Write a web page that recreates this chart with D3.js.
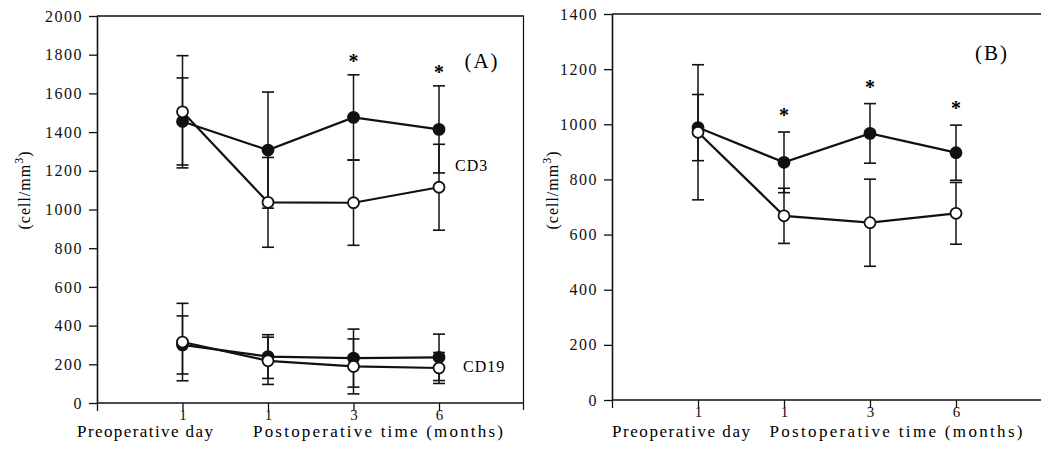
<!DOCTYPE html>
<html>
<head>
<meta charset="utf-8">
<script src="https://cdn.jsdelivr.net/npm/d3@7"></script>
<style>
  body { margin: 0; background: #fff; }
  svg { display: block; font-family: "Liberation Serif", "DejaVu Serif", serif; }
</style>
</head>
<body>
<svg id="chart" width="1041" height="470"></svg>
<script>
// x categories (tick labels under the 4 time points)
const timeLabels = ["1", "1", "3", "6"];

// y tick labels
const ticksA = [0, 200, 400, 600, 800, 1000, 1200, 1400, 1600, 1800, 2000];
const ticksB = [0, 200, 400, 600, 800, 1000, 1200, 1400];

// Panel A - CD3 (mean, sd)
const cd3Filled = [1455, 1307, 1476, 1414];
const cd3FilledSd = [225, 300, 220, 225];
const cd3Open = [1505, 1037, 1035, 1115];
const cd3OpenSd = [290, 232, 220, 222];

// Panel A - CD19 (mean, sd)
const cd19Filled = [300, 240, 232, 236];
const cd19FilledSd = [150, 113, 150, 120];
const cd19Open = [315, 218, 189, 181];
const cd19OpenSd = [200, 122, 142, 80];

// Panel B (mean, sd)
const bFilled = [988, 862, 967, 897];
const bFilledSd = [120, 110, 108, 100];
const bOpen = [971, 668, 643, 677];
const bOpenSd = [245, 100, 158, 112];

// significance stars (point index)
const starsA = [2, 3];
const starsB = [1, 2, 3];

const svg = d3.select("#chart");
const FONT = "'Liberation Serif', 'DejaVu Serif', serif";

function drawPanel(opt) {
    const x = d3.scaleLinear().domain([0, 5]).range([opt.left, opt.right]);
    const y = d3.scaleLinear().domain([0, opt.max]).range([opt.bottom, opt.top]);
    const g = svg.append("g");

    // top border
    g.append("line")
        .attr("x1", opt.left).attr("x2", opt.borderRight)
        .attr("y1", opt.top).attr("y2", opt.top)
        .attr("stroke", "#111").attr("stroke-width", 1.3);

    // y axis
    const ya = g.append("g")
        .attr("transform", `translate(${opt.left},0)`)
        .call(d3.axisLeft(y).tickValues(opt.ticks).tickFormat(d3.format("d"))
            .tickSize(8).tickSizeOuter(0).tickPadding(6));
    ya.attr("font-family", FONT);
    ya.select(".domain").attr("stroke-width", 1.6).attr("stroke", "#111");
    ya.selectAll(".tick line").attr("stroke-width", 1.3).attr("stroke", "#111");
    ya.selectAll("text").style("font-size", "16px").style("letter-spacing", "1.5px").attr("fill", "#111");

    // x axis
    const xa = g.append("g")
        .attr("transform", `translate(0,${opt.bottom})`)
        .call(d3.axisBottom(x).tickValues([0, 1, 2, 3, 4])
            .tickFormat(d => d === 0 ? "" : timeLabels[d - 1])
            .tickSize(8).tickSizeOuter(0).tickPadding(-2));
    xa.attr("font-family", FONT);
    xa.select(".domain").attr("stroke-width", 1.6).attr("stroke", "#111")
        .attr("d", `M${opt.left},0H${opt.borderRight}`);
    xa.selectAll(".tick line").attr("stroke-width", 1.3).attr("stroke", "#111");
    xa.selectAll("text").style("font-size", "15px").attr("fill", "#111");

    // x axis titles
    g.append("text")
        .attr("x", opt.preX).attr("y", 437)
        .attr("text-anchor", "middle")
        .attr("textLength", opt.preW).attr("lengthAdjust", "spacing")
        .style("font-size", "17px")
        .text("Preoperative day");
    g.append("text")
        .attr("x", opt.postX).attr("y", 437)
        .attr("text-anchor", "middle")
        .attr("textLength", opt.postW).attr("lengthAdjust", "spacing")
        .style("font-size", "17px")
        .text("Postoperative  time (months)");

    // y axis title
    const yt = g.append("text")
        .attr("transform", `translate(${opt.titleX},190) rotate(-90)`)
        .attr("text-anchor", "middle")
        .style("font-size", "16px")
        .style("letter-spacing", "1px");
    yt.append("tspan").text("(cell/mm");
    yt.append("tspan").attr("dy", -7).style("font-size", "12px").text("3");
    yt.append("tspan").attr("dy", 7).text(")");

    const line = d3.line().x((d, i) => x(i + 1)).y(d => y(d));

    opt.series.forEach(s => {
        g.append("path")
            .datum(s.mean)
            .attr("fill", "none")
            .attr("stroke", "#111")
            .attr("stroke-width", 2.2)
            .attr("d", line);
    });

    // error bars
    opt.series.forEach(s => {
        s.mean.forEach((m, i) => {
            const cx = x(i + 1);
            const hi = y(m + s.sd[i]), lo = y(m - s.sd[i]);
            g.append("line")
                .attr("x1", cx).attr("x2", cx).attr("y1", hi).attr("y2", lo)
                .attr("stroke", "#111").attr("stroke-width", 1.5);
            [hi, lo].forEach(yy => {
                g.append("line")
                    .attr("x1", cx - 6).attr("x2", cx + 6).attr("y1", yy).attr("y2", yy)
                    .attr("stroke", "#111").attr("stroke-width", 1.6);
            });
        });
    });

    // markers
    opt.series.forEach(s => {
        g.selectAll(null)
            .data(s.mean)
            .enter().append("circle")
            .attr("cx", (d, i) => x(i + 1))
            .attr("cy", d => y(d))
            .attr("r", 5.5)
            .attr("fill", s.filled ? "#111" : "#fff")
            .attr("stroke", "#111")
            .attr("stroke-width", 1.8);
    });

    // stars above the filled series
    const ref = opt.series[0];
    g.selectAll(null)
        .data(opt.stars)
        .enter().append("text")
        .attr("x", i => x(i + 1))
        .attr("y", i => y(ref.mean[i] + ref.sd[i]) - opt.starGap)
        .attr("text-anchor", "middle")
        .style("font-size", "20px")
        .style("font-weight", "bold")
        .text("*");

    g.append("text")
        .attr("x", opt.tagX).attr("y", opt.tagY)
        .attr("text-anchor", "middle")
        .style("font-size", "21px")
        .style("letter-spacing", "2px")
        .text(opt.tag);

    return { g, x, y };
}

const pa = drawPanel({
    left: 97, right: 524.5, borderRight: 524, top: 16, bottom: 403, max: 2000,
    ticks: ticksA, preX: 145, preW: 136, postX: 378, postW: 250, titleX: 30,
    series: [
        { mean: cd3Filled, sd: cd3FilledSd, filled: true },
        { mean: cd3Open, sd: cd3OpenSd, filled: false },
        { mean: cd19Filled, sd: cd19FilledSd, filled: true },
        { mean: cd19Open, sd: cd19OpenSd, filled: false }
    ],
    stars: starsA, starGap: 7, tag: "(A)", tagX: 482, tagY: 68
});

// right edge of panel A
pa.g.append("line")
    .attr("x1", 523.5).attr("x2", 523.5).attr("y1", 16).attr("y2", 410)
    .attr("stroke", "#111").attr("stroke-width", 1.2);

pa.g.append("text").attr("x", 455).attr("y", 171)
    .style("font-size", "16px").style("letter-spacing", "1px").text("CD3");
pa.g.append("text").attr("x", 463).attr("y", 372)
    .style("font-size", "16px").style("letter-spacing", "1px").text("CD19");

drawPanel({
    left: 612, right: 1042, borderRight: 1041, top: 14, bottom: 400, max: 1400,
    ticks: ticksB, preX: 681, preW: 138, postX: 896, postW: 253, titleX: 558,
    series: [
        { mean: bFilled, sd: bFilledSd, filled: true },
        { mean: bOpen, sd: bOpenSd, filled: false }
    ],
    stars: starsB, starGap: 10, tag: "(B)", tagX: 992, tagY: 60
});
</script>
</body>
</html>
